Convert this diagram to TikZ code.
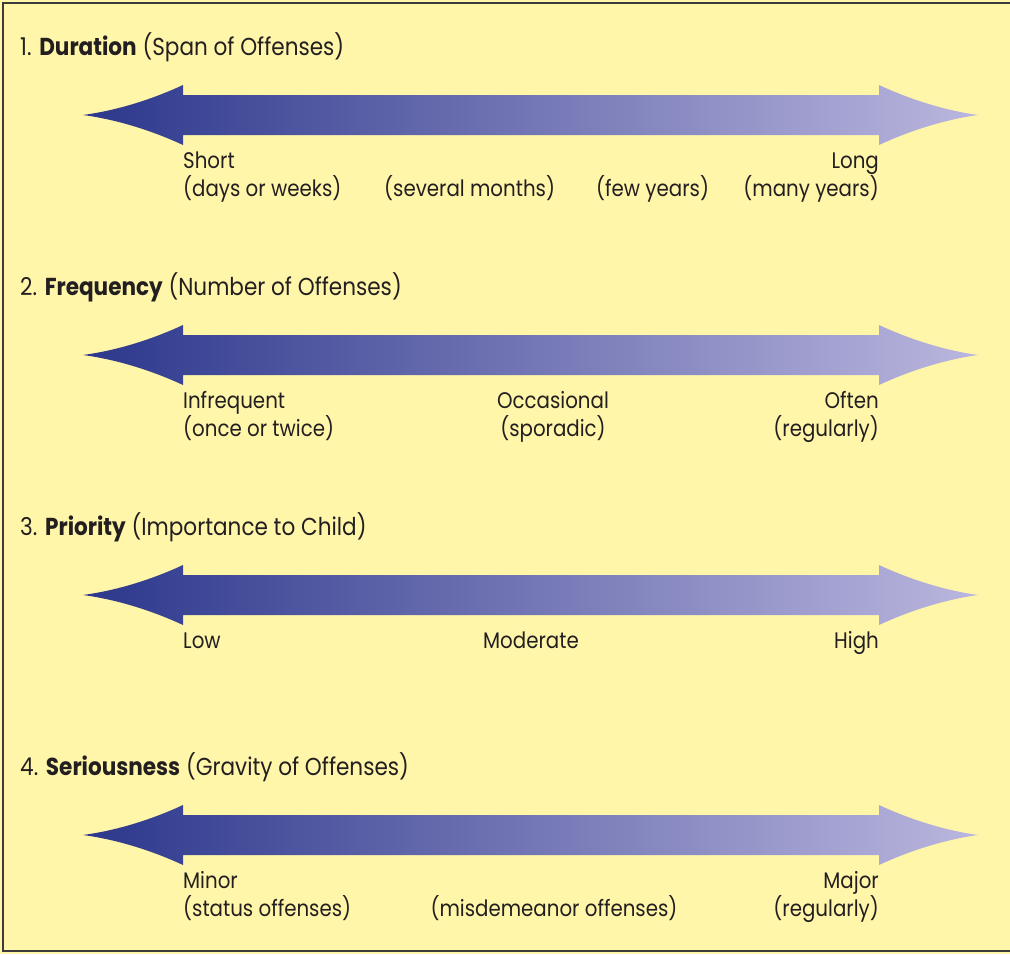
\documentclass[tikz,border=0pt]{standalone}
\usepackage{fontspec}
\setmainfont{Poppins}[FakeStretch=0.88]
\definecolor{bg}{RGB}{255,246,170}
\definecolor{frame}{RGB}{60,60,60}
\definecolor{txt}{RGB}{35,31,32}
\definecolor{adark}{RGB}{44,55,140}
\definecolor{alight}{RGB}{186,182,222}
\newcommand{\lblfont}{\fontsize{22.5}{28}\selectfont}
\newcommand{\ttlfont}{\fontsize{24.5}{28}\selectfont}
\tikzset{
  lbl/.style={inner sep=0pt, font=\lblfont, text=txt},
  ttl/.style={inner sep=0pt, font=\ttlfont, text=txt, anchor=base west},
  bigarrow/.style={left color=adark, right color=alight, draw=none},
  framestyle/.style={draw=frame, line width=1.5pt}
}
\begin{document}
\begin{tikzpicture}[x=1pt,y=-1pt]
\useasboundingbox (0,0) rectangle (1010,954);
\fill[bg] (0,0) rectangle (1010,954);
\draw[framestyle] (1012,3) -- (3,3) -- (3,951) -- (1012,951);
\foreach \y in {115,355,595,835}{
  \shade[bigarrow] (83,\y) .. controls (120,{\y-5}) and (155,{\y-17}) .. (183,{\y-30})
    -- (183,{\y-20}) -- (879,{\y-20}) -- (879,{\y-30})
    .. controls (907,{\y-17}) and (942,{\y-5}) .. (978,\y)
    .. controls (942,{\y+5}) and (907,{\y+17}) .. (879,{\y+30})
    -- (879,{\y+20}) -- (183,{\y+20}) -- (183,{\y+30})
    .. controls (155,{\y+17}) and (120,{\y+5}) .. (83,\y) -- cycle;
}
% titles
\node[ttl] (t1) at (20,55) {1. \textbf{Duration} (Span of Offenses)};
\node[ttl] (t2) at (20,295) {2. \textbf{Frequency} (Number of Offenses)};
\node[ttl] (t3) at (20,535) {3. \textbf{Priority} (Importance to Child)};
\node[ttl] (t4) at (20,775) {4. \textbf{Seriousness} (Gravity of Offenses)};
% section 1 (multi-line nodes: base = last line)
\node[lbl, anchor=base west, align=left] (d1) at (183,196) {Short\\(days or weeks)};
\node[lbl, anchor=base west] (d2) at (384,196) {(several months)};
\node[lbl, anchor=base west] (d3) at (596,196) {(few years)};
\node[lbl, anchor=base east, align=right] (d4) at (879,196) {Long\\(many years)};
% section 2
\node[lbl, anchor=base west, align=left] (f1) at (183,436) {Infrequent\\(once or twice)};
\node[lbl, anchor=base, align=center] (f2) at (553,436) {Occasional\\(sporadic)};
\node[lbl, anchor=base east, align=right] (f3) at (879,436) {Often\\(regularly)};
% section 3
\node[lbl, anchor=base west] (p1) at (183,648) {Low};
\node[lbl, anchor=base] (p2) at (531,648) {Moderate};
\node[lbl, anchor=base east] (p3) at (879,648) {High};
% section 4
\node[lbl, anchor=base west, align=left] (s1) at (183,916) {Minor\\(status offenses)};
\node[lbl, anchor=base] (s2) at (554,916) {(misdemeanor offenses)};
\node[lbl, anchor=base east, align=right] (s3) at (879,916) {Major\\(regularly)};
\end{tikzpicture}
\end{document}
